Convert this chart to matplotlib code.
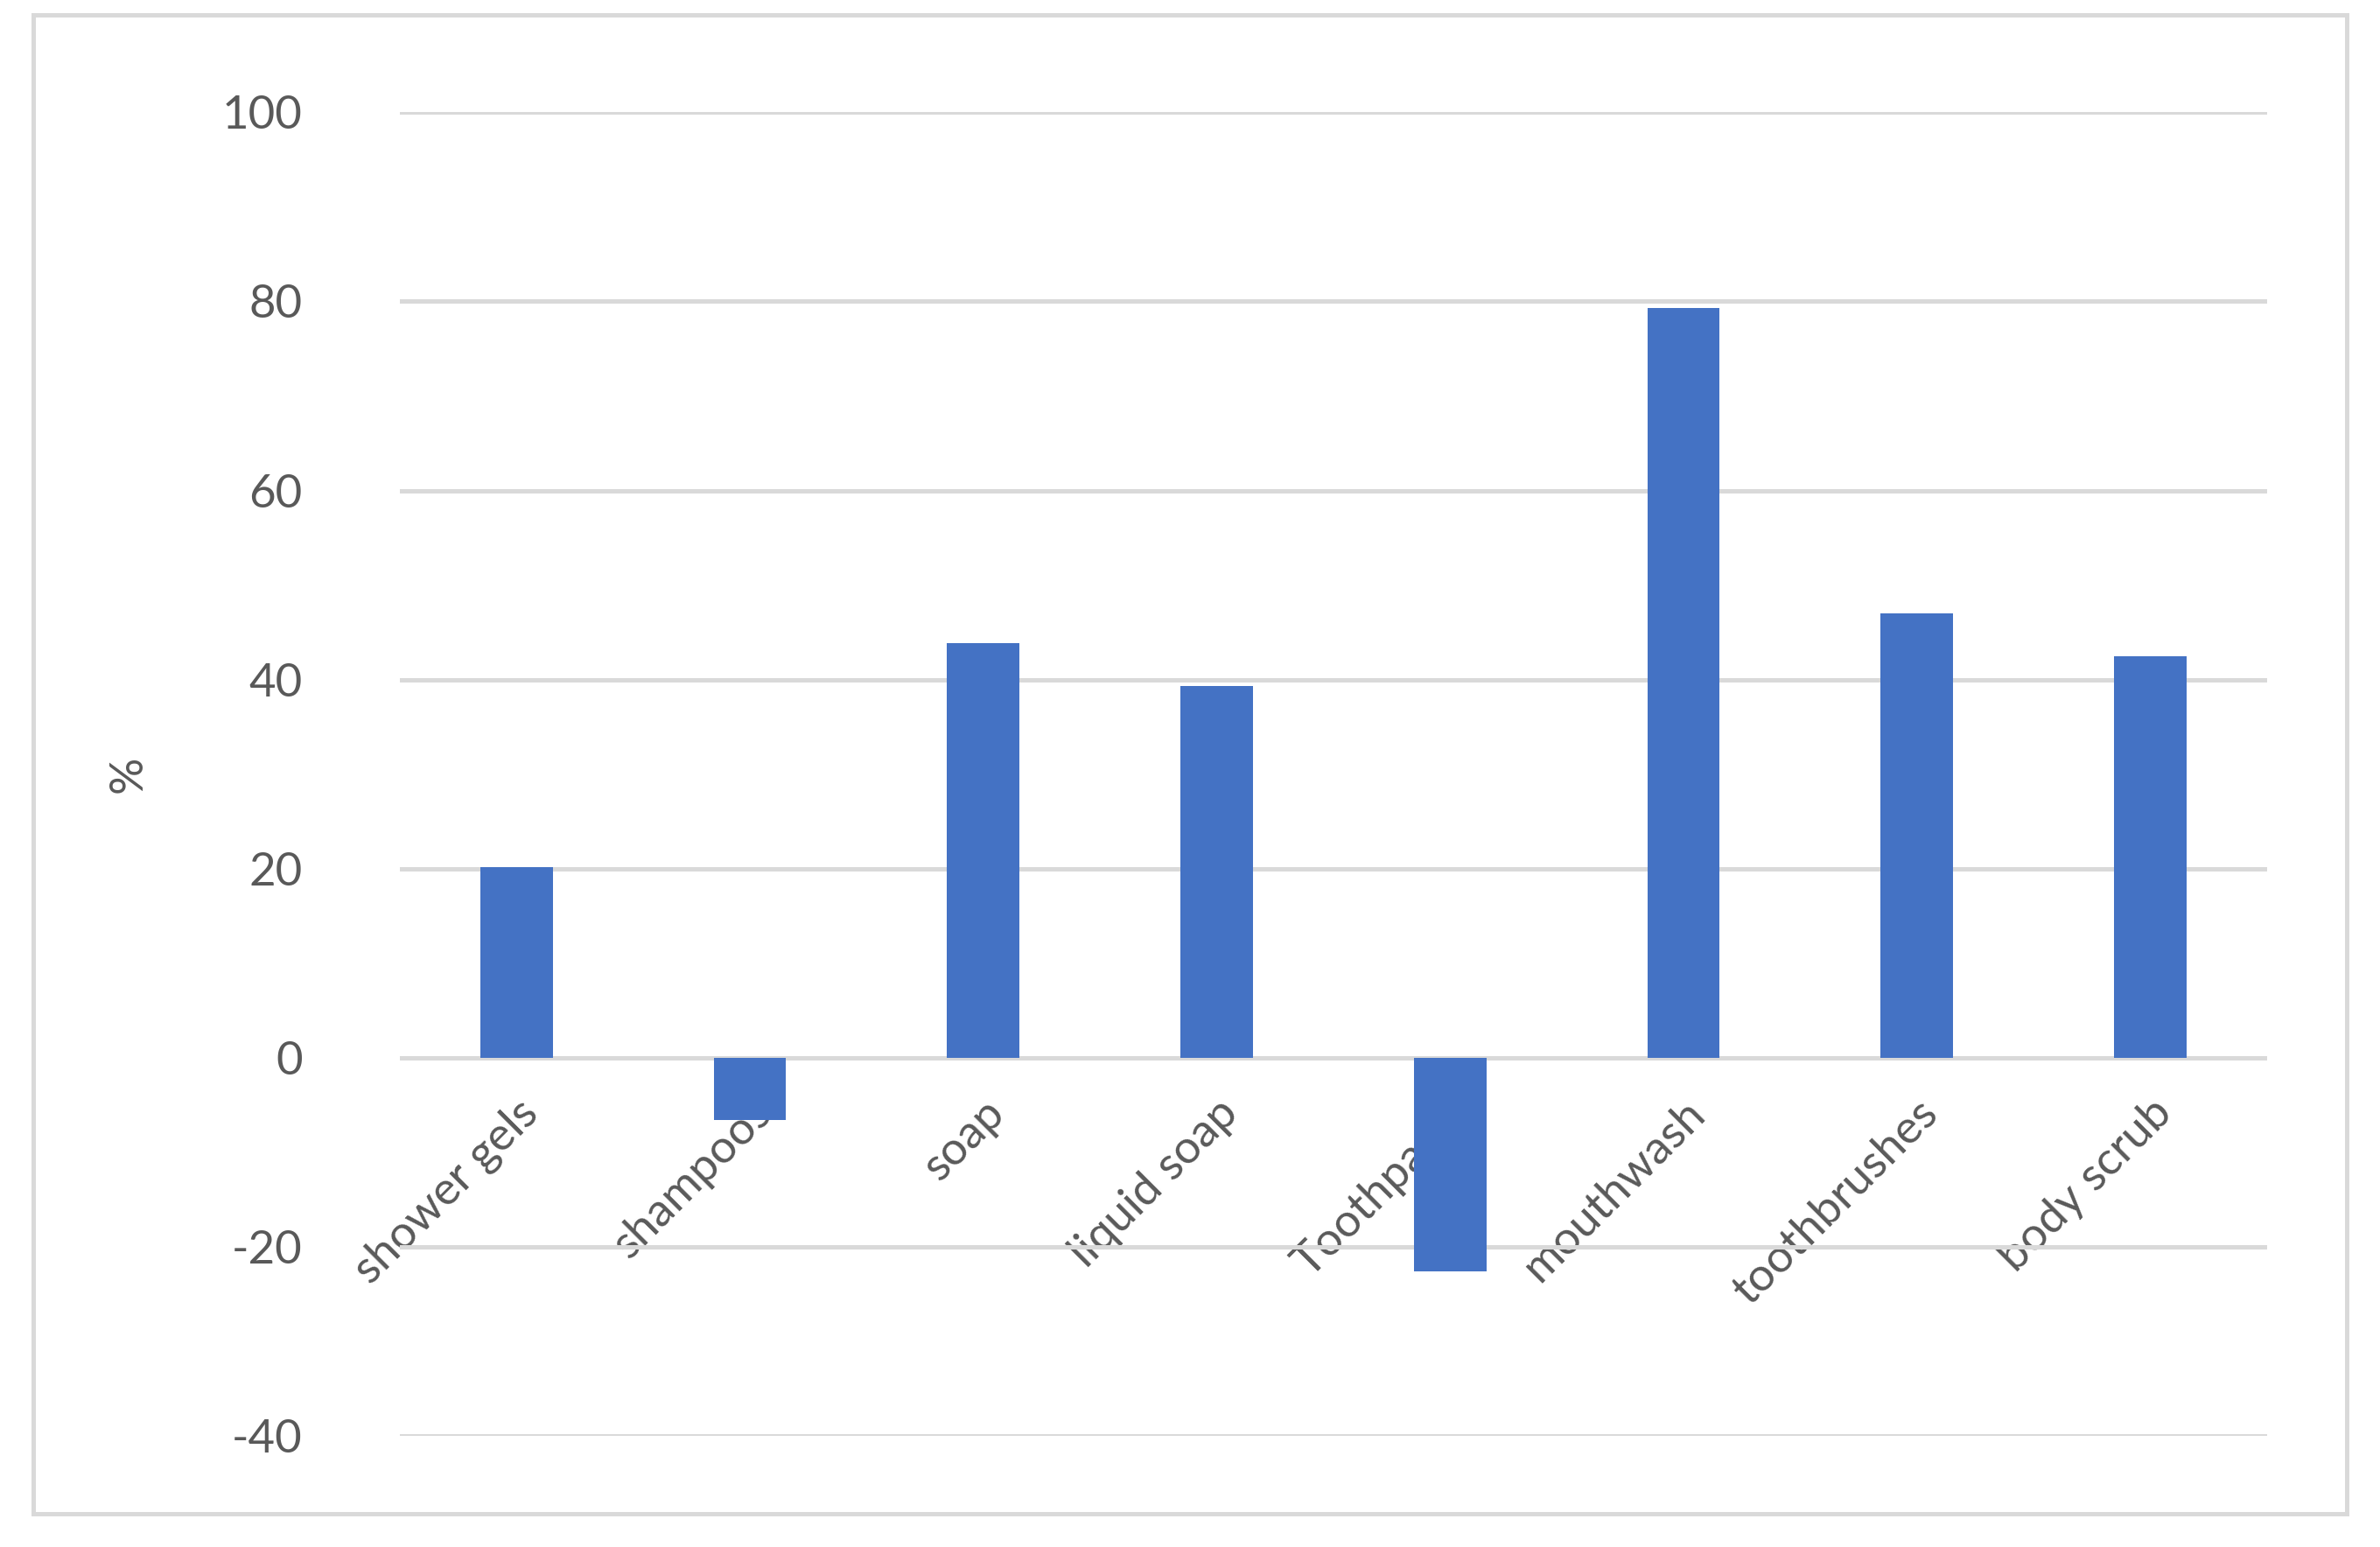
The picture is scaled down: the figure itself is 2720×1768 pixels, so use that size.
import matplotlib
matplotlib.use("Agg")
import matplotlib.pyplot as plt
from matplotlib.patches import Rectangle

categories = ["shower gels", "shampoos", "soap", "liquid soap", "Toothpaste",
              "mouthwash", "toothbrushes", "body scrub"]
values = [20.2, -6.6, 43.9, 39.3, -22.6, 79.3, 47.0, 42.5]
yticks = [-40, -20, 0, 20, 40, 60, 80, 100]

txt = "#595959"
plt.rcParams['font.family'] = ['Lato', 'DejaVu Sans']

fig = plt.figure(figsize=(13.6, 8.84), dpi=200)
ax = fig.add_axes([262/1560, 1 - 947/1020, (1486-262)/1560, (947-74)/1020])

ax.bar(range(len(categories)), values, width=0.31, color="#4472C4", zorder=3)
ax.set_xlim(-0.5, len(categories) - 0.5)
ax.set_ylim(-40, 100)
ax.set_yticks(yticks)
ax.set_yticklabels([str(v) for v in yticks], fontsize=19, color=txt)
ax.grid(axis="y", color="#D9D9D9", linewidth=1.8, zorder=0)
ax.set_xticks(range(len(categories)))
ax.set_xticklabels(categories, rotation=45, ha="right", va="top",
                   rotation_mode="anchor", fontsize=19, color=txt)
ax.tick_params(axis="x", length=0, pad=14)
ax.tick_params(axis="y", length=0, pad=40)
for s in ax.spines.values():
    s.set_visible(False)
ax.set_ylabel("%", fontsize=19, color=txt, labelpad=30)

# x labels are placed at the zero line rather than the bottom
for lbl in ax.get_xticklabels():
    lbl.set_y(40 / 140)

fig.patches.append(Rectangle((22/1560, 1 - 998/1020), (1538-22)/1560, (998-10)/1020,
                             transform=fig.transFigure, fill=False,
                             edgecolor="#D9D9D9", linewidth=1.8))

fig.savefig("out.png", dpi=200)
